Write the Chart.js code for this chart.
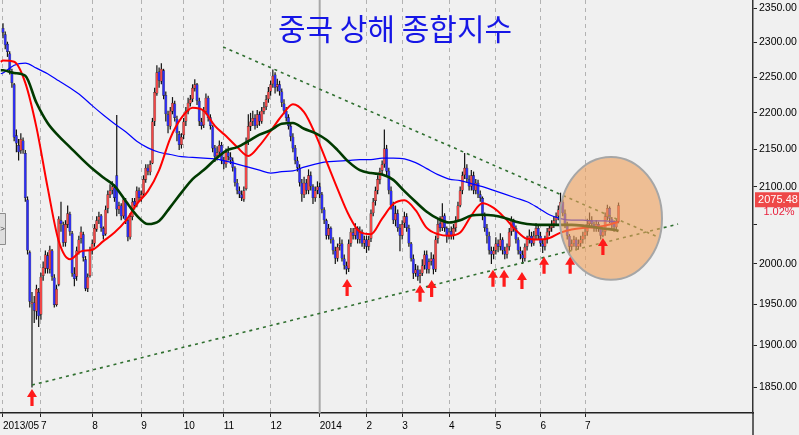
<!DOCTYPE html>
<html><head><meta charset="utf-8">
<script src="https://cdn.jsdelivr.net/npm/chart.js@4.4.1/dist/chart.umd.min.js"></script>
<style>html,body{margin:0;padding:0;background:#f0f0f0;overflow:hidden}canvas{display:block}</style>
</head><body>
<canvas id="c" width="799" height="435"></canvas>
<script>
const chartTitle = '중국 상해 종합지수';
const monthStartDays = [0,17,40,62,81,99,120,142,163,179,200,221,241,261];
const monthLabels = ['2013/05','7','8','9','10','11','12','2014','2','3','4','5','6','7'];
const yTicks = [1850,1900,1950,2000,2050,2100,2150,2200,2250,2300,2350];

const opens = [
2321,2312,2298,2284,2258,2240,2169,2156,2148,2162,
2145,2083,2015,1950,1952,1941,1965,1937,1985,1994,
2011,1993,2017,1983,1949,1974,2056,2050,2027,2050,
2064,2039,1988,1984,2015,2032,2038,2006,1969,1985,
2017,2026,2044,2056,2062,2046,2038,2071,2089,2095,
2099,2115,2070,2075,2061,2081,2056,2034,2060,2081,
2075,2095,2085,2090,2109,2125,2119,2131,2188,2227,
2258,2244,2260,2225,2198,2181,2202,2213,2192,2171,
2156,2169,2188,2202,2213,2219,2234,2240,2217,2188,
2183,2202,2221,2194,2181,2152,2141,2146,2156,2135,
2130,2146,2140,2135,2125,2105,2095,2090,2083,2097,
2162,2181,2188,2193,2183,2198,2188,2202,2208,2219,
2230,2240,2254,2236,2240,2230,2213,2203,2194,2182,
2167,2152,2135,2125,2105,2089,2105,2095,2115,2100,
2085,2095,2100,2090,2070,2056,2036,2046,2031,2017,
2007,2023,2026,2007,1998,1994,2026,2040,2036,2046,
2031,2041,2026,2031,2022,2032,2065,2081,2095,2109,
2121,2130,2151,2121,2095,2075,2056,2065,2046,2036,
2052,2061,2046,2026,2007,1988,1993,1985,1988,1998,
2012,1993,2003,2007,1993,2032,2052,2046,2062,2046,
2036,2042,2036,2046,2056,2075,2095,2115,2125,2110,
2100,2115,2095,2105,2090,2085,2061,2046,2036,2017,
2012,2017,2026,2022,2031,2017,2012,2022,2041,2056,
2046,2031,2017,2012,2007,2022,2031,2036,2026,2036,
2046,2036,2026,2022,2031,2041,2046,2051,2056,2061,
2070,2080,2065,2051,2036,2022,2026,2031,2022,2026,
2031,2036,2041,2051,2056,2051,2046,2051,2046,2036,
2041,2060,2072,2058,2052,2047,2054];
const highs = [
2328,2316,2301,2287,2262,2242,2177,2164,2172,2166,
2149,2087,2017,1965,1960,1974,1970,1989,2003,2017,
2015,2023,2019,1987,1974,2061,2080,2054,2056,2075,
2067,2042,1996,2022,2036,2048,2041,2010,1988,2022,
2031,2051,2061,2067,2064,2048,2075,2095,2103,2107,
2103,2197,2080,2078,2087,2085,2058,2065,2085,2085,
2100,2099,2095,2115,2130,2130,2135,2193,2235,2267,
2264,2270,2262,2230,2203,2208,2222,2217,2196,2175,
2172,2193,2208,2221,2225,2240,2247,2242,2221,2193,
2208,2227,2224,2198,2183,2156,2154,2162,2160,2140,
2151,2154,2146,2139,2127,2110,2100,2095,2100,2166,
2198,2200,2203,2198,2204,2202,2208,2215,2225,2236,
2245,2261,2257,2248,2245,2234,2219,2208,2198,2185,
2172,2156,2140,2130,2110,2113,2110,2123,2120,2103,
2100,2107,2105,2093,2073,2058,2051,2048,2034,2022,
2026,2034,2031,2012,2003,2031,2046,2046,2052,2048,
2048,2044,2036,2036,2036,2070,2085,2100,2115,2125,
2135,2177,2156,2125,2100,2080,2075,2070,2051,2056,
2067,2065,2050,2028,2012,2000,1998,1993,2006,2017,
2017,2007,2015,2012,2036,2058,2061,2078,2065,2048,
2046,2048,2051,2061,2080,2100,2120,2145,2130,2115,
2122,2120,2110,2109,2095,2087,2066,2051,2041,2022,
2022,2034,2031,2039,2034,2022,2026,2046,2061,2058,
2049,2034,2022,2017,2026,2036,2044,2041,2042,2052,
2049,2041,2031,2036,2046,2051,2056,2061,2066,2075,
2092,2083,2070,2054,2038,2031,2036,2034,2031,2036,
2041,2046,2058,2066,2061,2054,2056,2054,2048,2046,
2066,2076,2074,2060,2056,2058,2079];
const lows = [
2306,2290,2279,2254,2235,2161,2146,2135,2144,2144,
2080,2012,1946,1850,1927,1931,1922,1931,1979,1988,
1988,1988,1979,1946,1947,1972,2041,2022,2022,2046,
2036,1984,1972,1979,2012,2026,2003,1966,1965,1983,
2012,2022,2041,2051,2041,2031,2036,2065,2085,2090,
2080,2061,2064,2056,2058,2051,2029,2031,2056,2070,
2073,2080,2080,2087,2105,2115,2115,2130,2182,2224,
2235,2240,2219,2188,2172,2177,2198,2188,2161,2149,
2151,2164,2182,2198,2209,2215,2230,2211,2182,2177,
2179,2198,2188,2177,2146,2133,2135,2140,2130,2123,
2125,2135,2130,2120,2100,2090,2085,2081,2080,2095,
2156,2175,2182,2177,2179,2182,2185,2198,2204,2214,
2224,2235,2227,2230,2224,2208,2198,2188,2177,2161,
2146,2130,2120,2100,2080,2085,2090,2090,2095,2077,
2080,2090,2085,2065,2051,2031,2031,2026,2012,2000,
2003,2017,2003,1993,1987,1990,2022,2031,2031,2026,
2026,2022,2019,2014,2017,2028,2061,2075,2090,2103,
2115,2125,2115,2090,2070,2051,2048,2041,2016,2031,
2046,2041,2022,2003,1981,1984,1979,1976,1985,1993,
1988,1988,1998,1987,1990,2026,2041,2042,2041,2027,
2031,2031,2031,2041,2054,2073,2090,2110,2105,2095,
2095,2090,2090,2085,2080,2056,2041,2026,2012,2000,
2006,2012,2015,2017,2012,2006,2007,2017,2036,2041,
2026,2012,2006,2000,2003,2017,2026,2022,2023,2031,
2031,2022,2014,2017,2026,2036,2041,2046,2051,2056,
2065,2061,2046,2031,2011,2017,2022,2017,2018,2022,
2026,2031,2036,2046,2046,2041,2041,2041,2031,2034,
2036,2056,2052,2046,2041,2043,2052];
const closes = [
2314,2296,2286,2260,2242,2166,2158,2146,2164,2149,
2085,2017,1953,1950,1942,1969,1935,1984,1996,2012,
1994,2018,1984,1949,1969,2058,2051,2027,2051,2065,
2041,1988,1981,2017,2031,2041,2008,1969,1984,2017,
2026,2046,2056,2061,2046,2036,2070,2090,2095,2100,
2085,2070,2075,2061,2083,2056,2034,2061,2080,2075,
2095,2085,2090,2110,2125,2120,2130,2188,2229,2257,
2245,2262,2224,2198,2182,2203,2214,2193,2172,2156,
2167,2188,2203,2214,2219,2235,2240,2217,2188,2182,
2203,2221,2193,2182,2151,2140,2146,2156,2135,2130,
2146,2140,2135,2125,2105,2095,2090,2085,2095,2161,
2182,2188,2193,2182,2198,2188,2203,2208,2219,2230,
2240,2252,2235,2240,2230,2214,2203,2193,2182,2167,
2151,2135,2125,2105,2090,2105,2095,2115,2100,2085,
2095,2100,2090,2070,2056,2036,2046,2031,2017,2007,
2022,2026,2007,1998,1993,2026,2041,2036,2046,2031,
2041,2026,2031,2022,2031,2065,2080,2095,2110,2120,
2130,2151,2120,2095,2075,2056,2065,2046,2036,2051,
2061,2046,2026,2007,1988,1993,1984,1988,1998,2012,
1993,2003,2007,1993,2031,2051,2046,2061,2046,2036,
2041,2036,2046,2056,2075,2095,2115,2125,2110,2100,
2115,2095,2105,2090,2085,2061,2046,2036,2017,2012,
2017,2026,2022,2031,2017,2012,2022,2041,2056,2046,
2031,2017,2012,2007,2022,2031,2036,2026,2036,2046,
2036,2026,2022,2031,2041,2046,2051,2056,2061,2070,
2080,2065,2051,2036,2022,2026,2031,2022,2026,2031,
2036,2041,2051,2056,2051,2046,2051,2046,2036,2041,
2061,2072,2058,2052,2047,2054,2075.48];

const maDays = [-1,0,5,10,15,20,25,30,35,40,45,50,55,60,65,70,75,80,85,90,95,100,105,110,115,120,125,130,135,140,145,150,155,160,165,170,175,180,185,190,195,200,205,210,215,220,225,230,235,240,245,250,255,260,265,270,275,276];
const ma20 = [2272,2274,2272,2242,2180,2099,2029,2006,2016,2018,2029,2040,2055,2077,2094,2122,2165,2193,2207,2203,2182,2168,2153,2141,2155,2175,2196,2212,2201,2171,2134,2097,2063,2041,2038,2058,2077,2082,2069,2046,2038,2036,2040,2062,2078,2072,2059,2043,2032,2031,2033,2040,2044,2046,2047,2049,2053,2054];
const ma60 = [2260,2260,2256,2252,2214,2186,2168,2153,2138,2124,2112,2101,2081,2062,2051,2055,2073,2092,2110,2122,2136,2148,2153,2161,2170,2176,2185,2186,2178,2172,2163,2149,2133,2122,2118,2116,2109,2094,2080,2067,2058,2053,2056,2062,2063,2062,2059,2054,2051,2050,2050,2050,2050,2049,2047,2045,2043,2042];
const ma120 = [2255,2256,2267,2270,2263,2255,2245,2235,2224,2210,2197,2185,2174,2161,2152,2146,2143,2140,2139,2138,2137,2134,2130,2126,2122,2118,2120,2121,2126,2130,2133,2134,2135,2136,2136,2138,2138,2137,2132,2124,2116,2110,2108,2104,2100,2095,2090,2085,2080,2072,2063,2058,2056,2056,2055,2055,2054,2054];

const lowerTrendDays = [13, 302.7];
const lowerTrendValues = [1853, 2051];
const upperTrendDays = [98.7, 294.6];
const upperTrendValues = [2293.4, 2033.2];

const arrowDays = [13, 154.3, 187, 192.2, 219.7, 224.7, 232.7, 242.6, 254.3, 269];
const arrowValues = [1848.4, 1981, 1974, 1980, 1992.7, 1992.7, 1990, 2009, 2009, 2033];

const circleDay = 272.6, circleDayRadius = 22.9, circleTopValue = 2139.7, circleBottomValue = 1980.1;
const lastClose = 2075.48;
const changeText = '1.02%';

const dayIdx = closes.map((_, i) => i);
const wickData = dayIdx.map(i => ({x: i, y: [lows[i], highs[i]]}));
const bodyData = dayIdx.map(i => ({x: i, y: [opens[i], closes[i]]}));
const bodyColors = dayIdx.map(i => closes[i] >= opens[i] ? '#f24646' : '#2c2cf4');
const pts = (xs, ys) => xs.map((x, i) => ({x, y: ys[i]}));

const FONT = '"Liberation Sans", Arial, sans-serif';

const decor = {
  id: 'decor',
  beforeDraw(chart) {
    const c = chart.ctx;
    c.save(); c.fillStyle = '#f0f0f0'; c.fillRect(0, 0, chart.width, chart.height); c.restore();
  },
  beforeDatasetsDraw(chart) {
    const c = chart.ctx, xs = chart.scales.x, a = chart.chartArea;
    const px = xs.getPixelForValue(monthStartDays[7]);
    c.save(); c.strokeStyle = '#a8a8a8'; c.lineWidth = 2;
    c.beginPath(); c.moveTo(px, a.top); c.lineTo(px, a.bottom); c.stroke(); c.restore();
  },
  afterDatasetsDraw(chart) {
    const c = chart.ctx, xs = chart.scales.x, ys = chart.scales.y;
    const cx = xs.getPixelForValue(circleDay);
    const rx = xs.getPixelForValue(circleDay + circleDayRadius) - cx;
    const top = ys.getPixelForValue(circleTopValue), bot = ys.getPixelForValue(circleBottomValue);
    c.save();
    c.beginPath(); c.ellipse(cx, (top + bot) / 2, rx, (bot - top) / 2, 0, 0, Math.PI * 2);
    c.fillStyle = 'rgba(238,160,92,0.62)'; c.fill();
    c.strokeStyle = '#a6a6a6'; c.lineWidth = 2; c.stroke();
    c.fillStyle = '#ff1a1a';
    arrowDays.forEach((d, i) => {
      const x = xs.getPixelForValue(d), y = ys.getPixelForValue(arrowValues[i]);
      c.beginPath();
      c.moveTo(x, y); c.lineTo(x + 5, y + 8); c.lineTo(x + 1.6, y + 8); c.lineTo(x + 1.6, y + 17);
      c.lineTo(x - 1.6, y + 17); c.lineTo(x - 1.6, y + 8); c.lineTo(x - 5, y + 8); c.closePath(); c.fill();
    });
    c.restore();
  },
  afterDraw(chart) {
    const c = chart.ctx, a = chart.chartArea, ys = chart.scales.y;
    c.save();
    c.font = '30px "Noto Sans CJK KR", sans-serif';
    c.fillStyle = '#1616e6'; c.textAlign = 'center'; c.textBaseline = 'middle';
    c.fillText(chartTitle, a.left + 395, a.top + 29);
    c.strokeStyle = '#333'; c.lineWidth = 1.5;
    c.beginPath(); c.moveTo(a.right, a.bottom); c.lineTo(a.right, chart.height); c.stroke();
    const py = ys.getPixelForValue(lastClose);
    c.fillStyle = '#ee4848'; c.fillRect(a.right + 2, py - 13, chart.width - a.right - 2, 15);
    c.font = '11px ' + FONT; c.fillStyle = '#ffffff';
    c.fillText(lastClose.toFixed(2), a.right + 25, py - 5.5);
    c.fillStyle = '#e8203c';
    c.fillText(changeText, a.right + 26, py + 7);
    c.fillStyle = '#dedede'; c.strokeStyle = '#8c8c8c'; c.lineWidth = 1;
    c.beginPath(); c.rect(-2, 213.5, 7.5, 31); c.fill(); c.stroke();
    c.fillStyle = '#333'; c.font = '8px ' + FONT; c.fillText('>', 2.5, 229);
    c.restore();
  }
};

new Chart(document.getElementById('c'), {
  type: 'line',
  data: {
    datasets: [
      {type: 'line', data: pts(maDays, ma20), borderColor: '#ff0000', borderWidth: 2, pointRadius: 0, cubicInterpolationMode: 'monotone', order: 3},
      {type: 'line', data: pts(maDays, ma60), borderColor: '#003a00', borderWidth: 2.6, pointRadius: 0, cubicInterpolationMode: 'monotone', order: 2},
      {type: 'line', data: pts(maDays, ma120), borderColor: '#0000ff', borderWidth: 1.2, pointRadius: 0, cubicInterpolationMode: 'monotone', order: 4},
      {type: 'line', data: pts(lowerTrendDays, lowerTrendValues), borderColor: '#2f6f2f', borderWidth: 1.6, borderDash: [3, 4], pointRadius: 0, order: 1},
      {type: 'line', data: pts(upperTrendDays, upperTrendValues), borderColor: '#2f6f2f', borderWidth: 1.6, borderDash: [3, 4], pointRadius: 0, order: 1},
      {type: 'bar', data: wickData, backgroundColor: '#111111', borderWidth: 0, grouped: false, barPercentage: 1, maxBarThickness: 1.2, order: 10},
      {type: 'bar', data: bodyData, backgroundColor: bodyColors, borderColor: '#151515', borderWidth: 0.5, borderSkipped: false, grouped: false, barPercentage: 1.7, maxBarThickness: 3.8, minBarLength: 2, order: 9}
    ]
  },
  options: {
    responsive: false,
    animation: false,
    layout: {padding: 0},
    plugins: {legend: {display: false}, tooltip: {enabled: false}, title: {display: false}},
    scales: {
      x: {
        type: 'linear', min: -1.345, max: 336.3, bounds: 'data', offset: false,
        afterBuildTicks: s => { s.ticks = monthStartDays.map(v => ({value: v})); },
        afterFit: s => { s.height = 22; s.paddingLeft = 0; s.paddingRight = 0; },
        ticks: {autoSkip: false, maxRotation: 0, minRotation: 0, align: 'start', padding: 3, color: '#000',
          font: {family: FONT, size: 10}, callback: v => monthLabels[monthStartDays.indexOf(v)]},
        grid: {color: ctx => (ctx.tick && ctx.tick.value === monthStartDays[7]) ? 'rgba(0,0,0,0)' : '#b2b2b2',
          lineWidth: 1, tickLength: 4, tickColor: '#222', tickWidth: 1, offset: false},
        border: {display: true, color: '#222', width: 1.5, dash: [4, 4]}
      },
      y: {
        type: 'logarithmic', position: 'right', min: 1820.6, max: 2362.3, bounds: 'data',
        afterBuildTicks: s => { s.ticks = yTicks.map(v => ({value: v})); },
        afterFit: s => { s.width = 46; s.paddingTop = 0; s.paddingBottom = 0; },
        ticks: {autoSkip: false, padding: 2, color: '#000', font: {family: FONT, size: 10.5},
          callback: v => v === 2050 ? '' : Number(v).toFixed(2)},
        grid: {drawOnChartArea: false, drawTicks: true, tickLength: 4, tickColor: '#222', color: '#222'},
        border: {display: true, color: '#333', width: 1.5}
      }
    }
  },
  plugins: [decor]
});
</script>
</body></html>
